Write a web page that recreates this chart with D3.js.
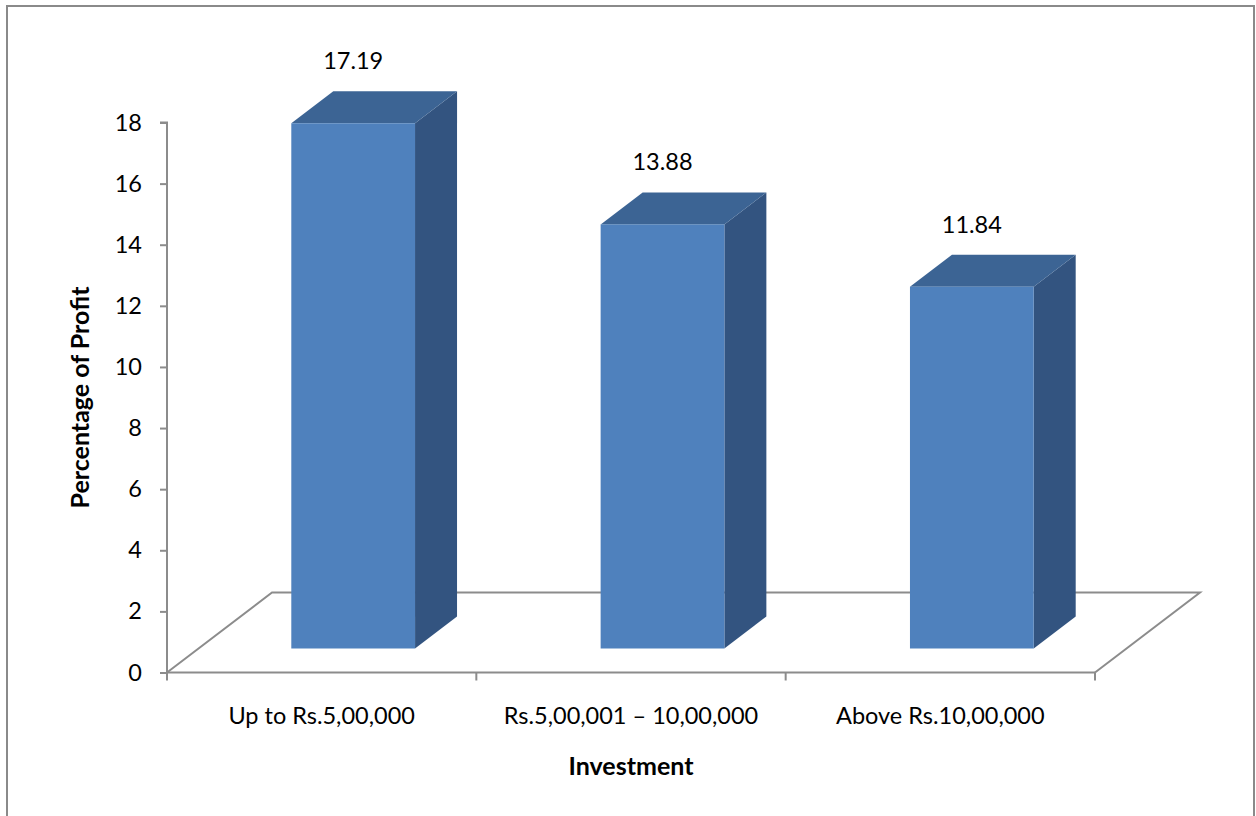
<!DOCTYPE html>
<html>
<head>
<meta charset="utf-8">
<script src="https://cdn.jsdelivr.net/npm/d3@7"></script>
<style>
  html, body { margin: 0; padding: 0; background: #ffffff; }
  svg { display: block; }
  text { font-family: Lato, "Open Sans", sans-serif; fill: #000; }
</style>
</head>
<body>
<svg id="chart" width="1256" height="816"></svg>
<script>
const categories = ["Up to Rs.5,00,000", "Rs.5,00,001 \u2013 10,00,000", "Above Rs.10,00,000"];
const values = [17.19, 13.88, 11.84];
const yTickValues = [0, 2, 4, 6, 8, 10, 12, 14, 16, 18];
const yTitle = "Percentage of Profit";
const xTitle = "Investment";

(function () {
const svg = d3.select("#chart");

// frame
svg.append("rect")
  .attr("x", 7).attr("y", 6).attr("width", 1247).attr("height", 830)
  .attr("fill", "none").attr("stroke", "#8a8a8a").attr("stroke-width", 2);

const plotLeft = 167, plotRight = 1095, plotBase = 672.5, plotTop = 122.5;
const depth = { dx: 105, dy: -80 };
const f0 = 0.3, f1 = 0.7; // bar depth fractions
const fs = 23.5, fsBold = 25;

const y = d3.scaleLinear().domain([0, 18]).range([plotBase, plotTop]);
const x = d3.scaleBand().domain(categories).range([plotLeft, plotRight])
  .paddingInner(0.6).paddingOuter(0.3);

const axisColor = "#8c8c8c";

// floor
const floor = [
  [plotLeft, plotBase],
  [plotLeft + depth.dx, plotBase + depth.dy],
  [plotRight + depth.dx, plotBase + depth.dy],
  [plotRight, plotBase]
];
svg.append("path")
  .attr("d", "M" + floor[0] + "L" + floor[1] + "L" + floor[2] + "L" + floor[3])
  .attr("fill", "none").attr("stroke", axisColor).attr("stroke-width", 2);

// y axis
const yAxis = d3.axisLeft(y).tickValues(yTickValues).tickSize(7).tickPadding(18);
const gy = svg.append("g").attr("transform", `translate(${plotLeft},0)`).call(yAxis);
gy.select(".domain").attr("stroke", axisColor).attr("stroke-width", 2)
  .attr("d", `M-7,${plotTop}H0V${plotBase}`);
gy.selectAll(".tick line").attr("stroke", axisColor).attr("stroke-width", 2);
gy.selectAll(".tick text").attr("font-size", fs).attr("font-family", "Lato").attr("fill", "#000");

// x axis
const xAxis = d3.axisBottom(x).tickSize(0).tickPadding(35);
const gx = svg.append("g").attr("transform", `translate(0,${plotBase})`).call(xAxis);
gx.select(".domain").attr("stroke", axisColor).attr("stroke-width", 2)
  .attr("d", `M${plotLeft},0H${plotRight}`);
gx.selectAll(".tick text").attr("font-size", fs).attr("font-family", "Lato").attr("fill", "#000");
const boundaries = d3.range(categories.length + 1).map(i => plotLeft + (plotRight - plotLeft) * i / categories.length);
gx.selectAll(".bound").data(boundaries).enter().append("line")
  .attr("x1", d => d).attr("x2", d => d).attr("y1", 0).attr("y2", 8)
  .attr("stroke", axisColor).attr("stroke-width", 2);

// bars
const frontCol = "#4F81BD", sideCol = "#335480", topCol = "#3C6494";
const sdx = depth.dx * (f1 - f0), sdy = depth.dy * (f1 - f0);
const bars = svg.append("g");
categories.forEach((c, i) => {
  const v = values[i];
  const x0 = x(c) + depth.dx * f0;
  const x1 = x0 + x.bandwidth();
  const yb = y(0) + depth.dy * f0;
  const yt = y(v) + depth.dy * f0;
  bars.append("path")
    .attr("d", `M${x1},${yb}L${x1 + sdx},${yb + sdy}L${x1 + sdx},${yt + sdy}L${x1},${yt}Z`)
    .attr("fill", sideCol);
  bars.append("path")
    .attr("d", `M${x0},${yt}L${x0 + sdx},${yt + sdy}L${x1 + sdx},${yt + sdy}L${x1},${yt}Z`)
    .attr("fill", topCol);
  bars.append("rect")
    .attr("x", x0).attr("y", yt).attr("width", x.bandwidth()).attr("height", yb - yt)
    .attr("fill", frontCol);
  svg.append("text")
    .attr("x", x0 + x.bandwidth() / 2).attr("y", yt - 54)
    .attr("text-anchor", "middle").attr("font-size", fs)
    .text(v.toFixed(2));
});

// titles
svg.append("text")
  .attr("transform", `translate(89,${(plotTop + plotBase) / 2}) rotate(-90)`)
  .attr("text-anchor", "middle").attr("font-size", fsBold).attr("font-weight", "bold")
  .text(yTitle);
svg.append("text")
  .attr("x", (plotLeft + plotRight) / 2).attr("y", 775)
  .attr("text-anchor", "middle").attr("font-size", fsBold).attr("font-weight", "bold")
  .text(xTitle);
})();
</script>
</body>
</html>
